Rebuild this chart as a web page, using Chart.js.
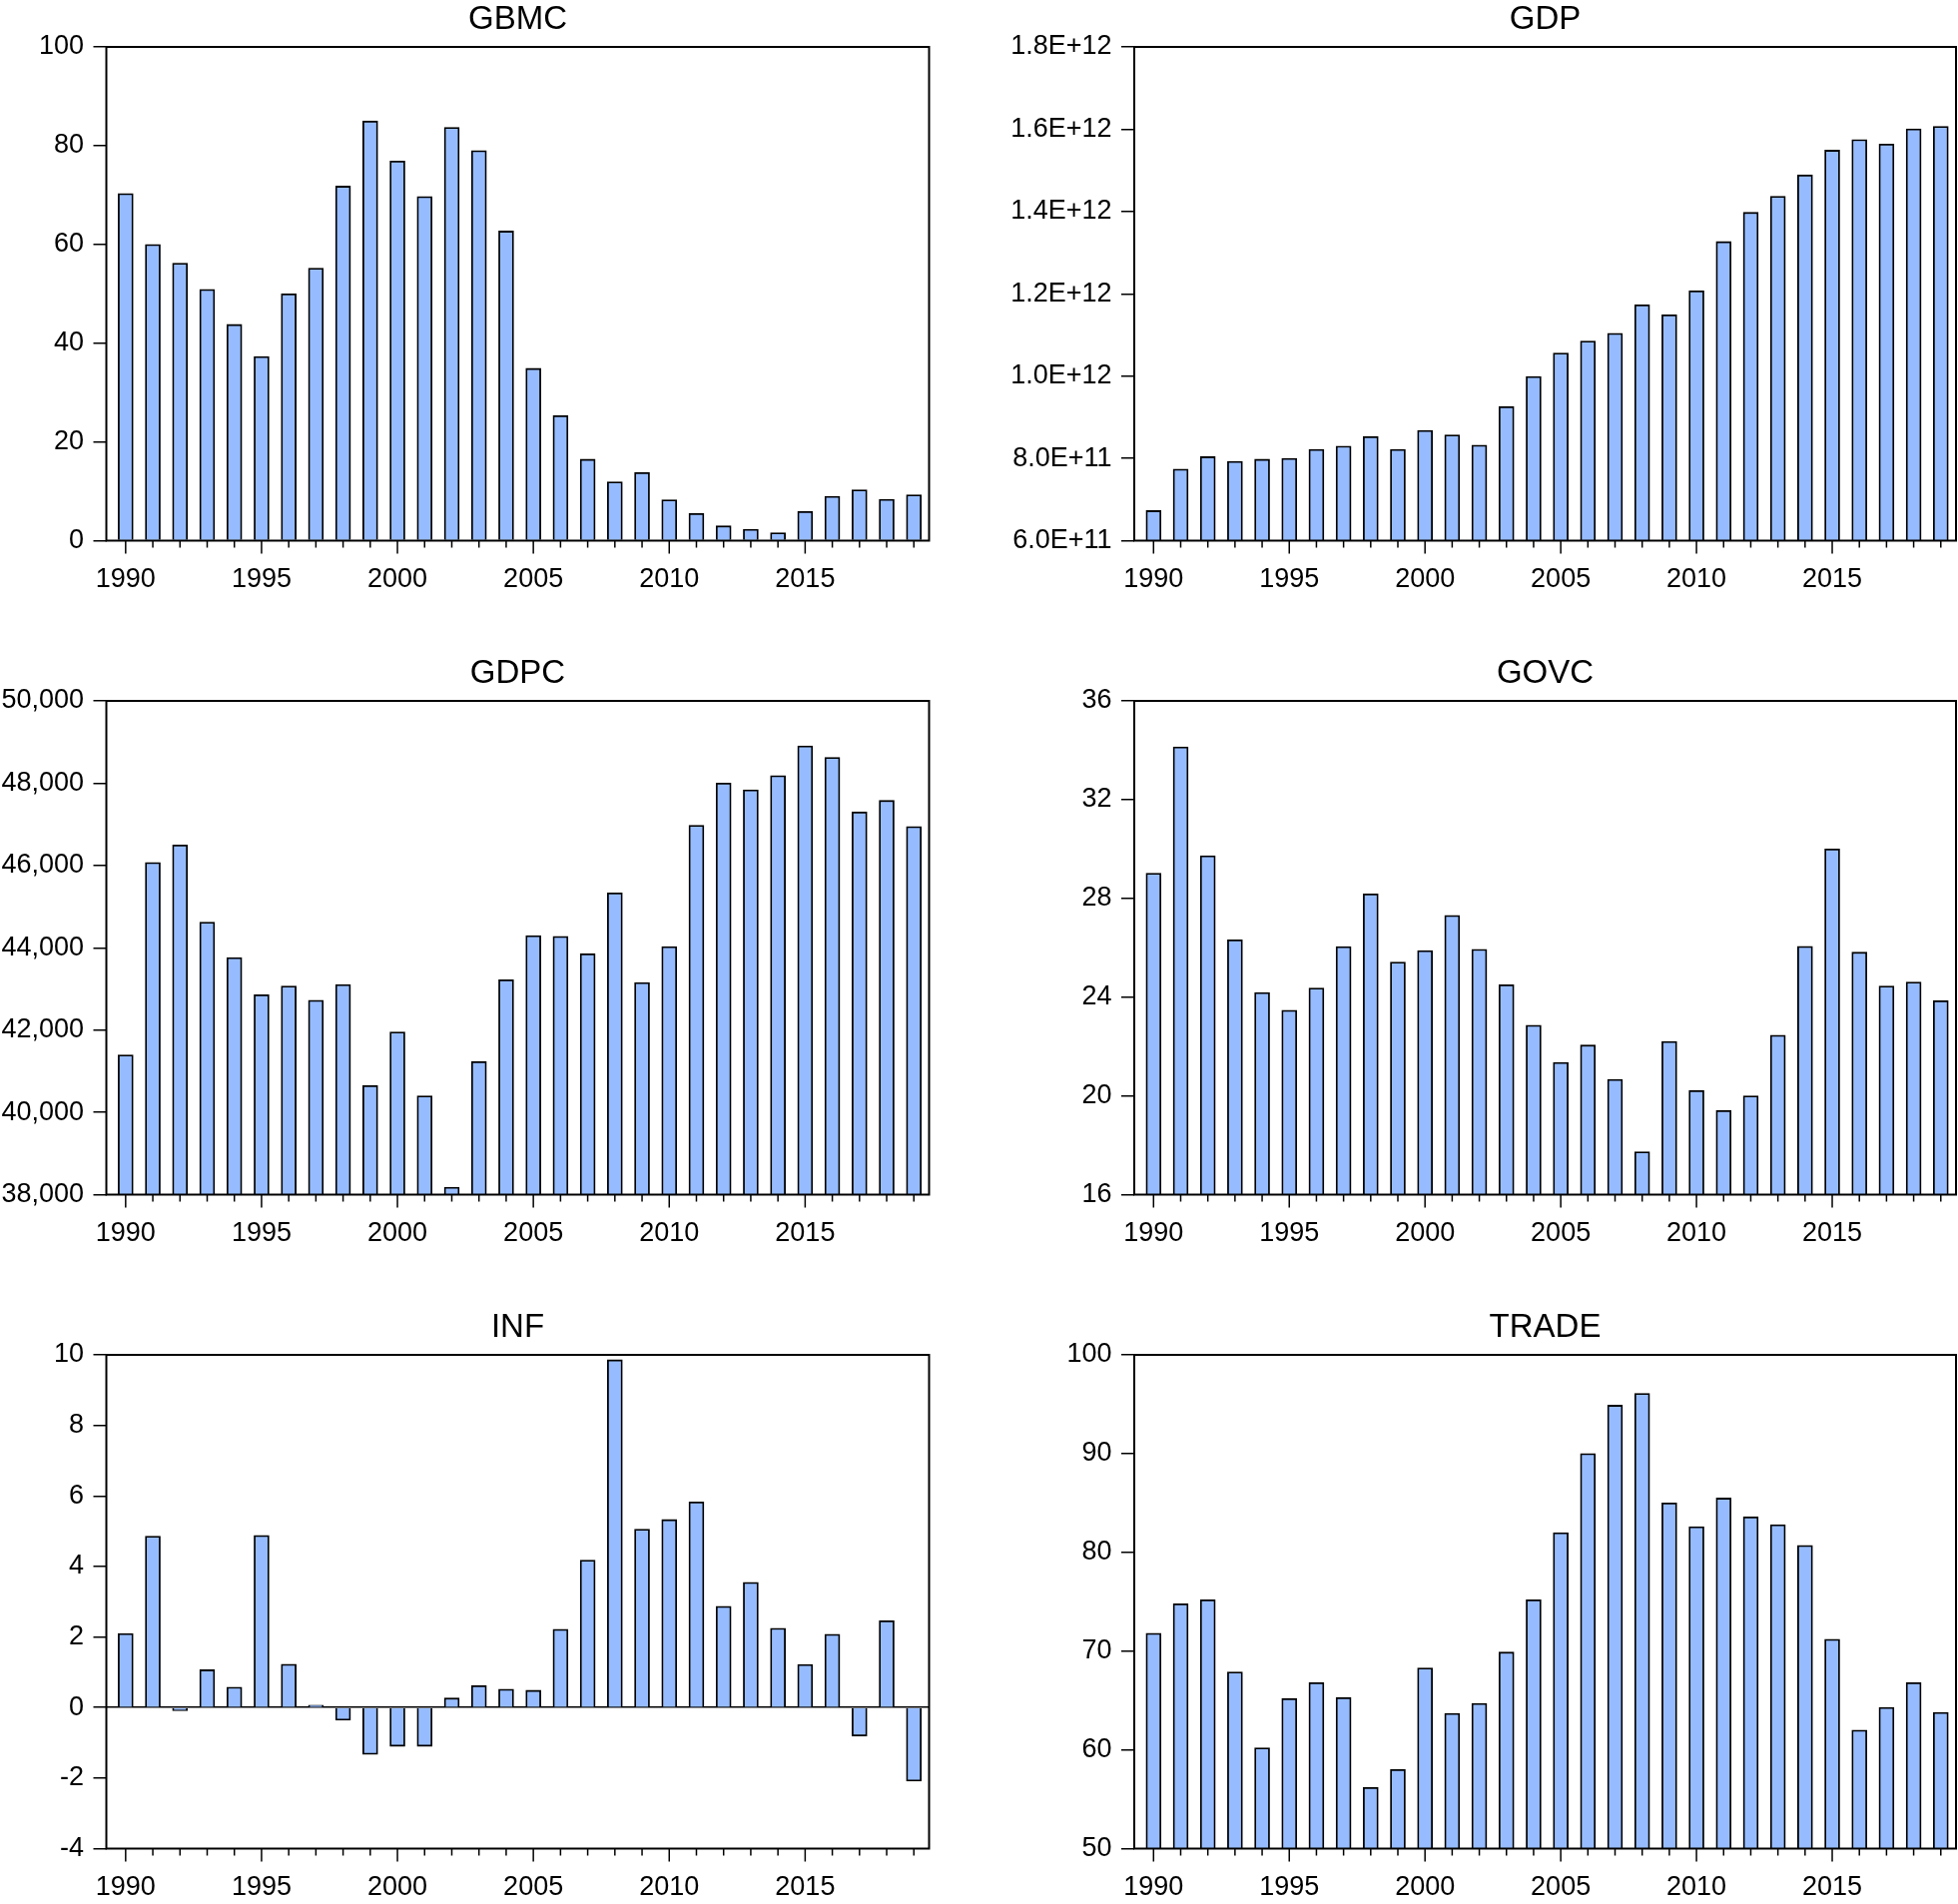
<!DOCTYPE html>
<html>
<head>
<meta charset="utf-8">
<script src="https://cdn.jsdelivr.net/npm/chart.js@4.4.1/dist/chart.umd.min.js"></script>
<style>
  html, body { margin: 0; padding: 0; background: #fff; width: 1961px; height: 1907px; overflow: hidden; }
  canvas { position: absolute; }
</style>
</head>
<body>
<canvas id="c-gbmc" width="980" height="610" style="left:0px;top:0px"></canvas>
<canvas id="c-gdp" width="981" height="610" style="left:980px;top:0px"></canvas>
<canvas id="c-gdpc" width="980" height="610" style="left:0px;top:655px"></canvas>
<canvas id="c-govc" width="981" height="610" style="left:980px;top:655px"></canvas>
<canvas id="c-inf" width="980" height="610" style="left:0px;top:1310px"></canvas>
<canvas id="c-trade" width="981" height="610" style="left:980px;top:1310px"></canvas>
<script>
var years = [1990, 1991, 1992, 1993, 1994, 1995, 1996, 1997, 1998, 1999,
             2000, 2001, 2002, 2003, 2004, 2005, 2006, 2007, 2008, 2009,
             2010, 2011, 2012, 2013, 2014, 2015, 2016, 2017, 2018, 2019];

var gbmc = [70.3, 60.0, 56.2, 50.9, 43.8, 37.3, 50.0, 55.2, 71.8, 85.0,
            76.9, 69.7, 83.7, 79.0, 62.7, 34.9, 25.3, 16.5, 11.9, 13.8,
            8.3, 5.5, 3.0, 2.3, 1.6, 5.9, 9.0, 10.3, 8.4, 9.3];

var gdp = [6.73e11, 7.74e11, 8.04e11, 7.93e11, 7.98e11, 8.00e11, 8.22e11, 8.30e11, 8.53e11, 8.22e11,
           8.68e11, 8.57e11, 8.32e11, 9.26e11, 9.99e11, 1.056e12, 1.085e12, 1.104e12, 1.173e12, 1.149e12,
           1.207e12, 1.327e12, 1.398e12, 1.437e12, 1.489e12, 1.549e12, 1.575e12, 1.564e12, 1.601e12, 1.607e12];

var gdpc = [41398, 46073, 46496, 44624, 43760, 42857, 43069, 42723, 43107, 40650,
            41955, 40400, 38182, 41235, 43222, 44297, 44278, 43856, 45334, 43155,
            44029, 46976, 48003, 47840, 48186, 48905, 48627, 47302, 47581, 46947];

var govc = [29.02, 34.14, 29.73, 26.32, 24.19, 23.47, 24.37, 26.05, 28.18, 25.42,
            25.89, 27.31, 25.94, 24.50, 22.86, 21.36, 22.06, 20.67, 17.74, 22.21,
            20.22, 19.41, 20.00, 22.46, 26.06, 30.00, 25.82, 24.45, 24.61, 23.86];

var inf = [2.10, 4.86, -0.09, 1.07, 0.58, 4.88, 1.23, 0.07, -0.36, -1.33,
           -1.10, -1.10, 0.27, 0.62, 0.52, 0.49, 2.22, 4.18, 9.86, 5.06,
           5.33, 5.83, 2.87, 3.55, 2.25, 1.22, 2.08, -0.81, 2.46, -2.09];

var trade = [71.8, 74.8, 75.2, 67.9, 60.2, 65.2, 66.8, 65.3, 56.2, 58.0,
             68.3, 63.7, 64.7, 69.9, 75.2, 82.0, 90.0, 94.9, 96.1, 85.0,
             82.6, 85.5, 83.6, 82.8, 80.7, 71.2, 62.0, 64.3, 66.8, 63.8];

// y axis ranges: [min, max, step]
var gbmcAxis = [0, 100, 20];
var gdpAxis = [6e11, 1.8e12, 2e11];
var gdpcAxis = [38000, 50000, 2000];
var govcAxis = [16, 36, 4];
var infAxis = [-4, 10, 2];
var tradeAxis = [50, 100, 10];

Chart.defaults.font.family = '"Liberation Sans", Arial, Helvetica, sans-serif';
Chart.defaults.color = '#000';

var plotTop = 47;
var plotHeight = 494.5;
var canvasHeight = 610;

function plainLabel(v) { return String(Math.round(v)); }
function commaLabel(v) { return Math.round(v).toLocaleString('en-US'); }
function expLabel(v) { return v.toExponential(1).replace('e+', 'E+'); }

// frame round the plot + year tick marks (long every 5 years)
var framePlugin = {
  id: 'frame',
  afterDraw: function(chart) {
    var ctx = chart.ctx;
    var a = chart.chartArea;
    var xs = chart.scales.x;
    ctx.save();
    ctx.strokeStyle = '#000';
    ctx.lineWidth = 1.5;
    xs.ticks.forEach(function(t) {
      var px = xs.getPixelForValue(t.value);
      var len = (Math.round(t.value) % 5 === 0) ? 13 : 7;
      ctx.beginPath();
      ctx.moveTo(px, a.bottom);
      ctx.lineTo(px, a.bottom + len);
      ctx.stroke();
    });
    ctx.lineWidth = 2;
    ctx.strokeRect(a.left, a.top, a.right - a.left, a.bottom - a.top);
    ctx.restore();
  }
};

function makePanel(id, title, values, axis, fmt, col, zeroLine) {
  var leftW = col === 0 ? 106.5 : 156;
  var rightPad = col === 0 ? 49.5 : 2;
  var points = [];
  for (var i = 0; i < years.length; i++) {
    points.push({ x: years[i], y: values[i] });
  }
  return new Chart(document.getElementById(id), {
    type: 'bar',
    data: {
      datasets: [{
        data: points,
        backgroundColor: '#96BCFF',
        borderColor: '#000',
        borderWidth: 1.8,
        barThickness: 15
      }]
    },
    options: {
      responsive: false,
      animation: false,
      devicePixelRatio: 1,
      layout: { padding: { left: 0, right: rightPad, top: 0, bottom: 0 } },
      plugins: {
        legend: { display: false },
        tooltip: { enabled: false },
        title: {
          display: true,
          text: title,
          fullSize: false,
          color: '#000',
          font: { size: 33, weight: 'normal' },
          padding: { top: 0, bottom: plotTop - 39.6 }
        }
      },
      scales: {
        x: {
          type: 'linear',
          offset: false,
          min: 1989.29,
          max: 2019.56,
          grid: { display: false },
          border: { display: false },
          ticks: {
            stepSize: 1,
            includeBounds: false,
            autoSkip: false,
            maxRotation: 0,
            minRotation: 0,
            padding: 15,
            font: { size: 27 },
            color: '#000',
            callback: function(v) { return (Math.round(v) % 5 === 0) ? String(Math.round(v)) : ''; }
          },
          afterFit: function(scale) { scale.height = canvasHeight - plotTop - plotHeight; }
        },
        y: {
          min: axis[0],
          max: axis[1],
          grid: {
            drawOnChartArea: !!zeroLine,
            color: function(c) { return (zeroLine && c.tick && Math.abs(c.tick.value) < 1e-9) ? '#000' : 'rgba(0,0,0,0)'; },
            lineWidth: 1.5,
            tickLength: 13,
            tickColor: '#000',
            tickWidth: 1.5
          },
          border: { display: false },
          ticks: {
            stepSize: axis[2],
            padding: 9.5,
            font: { size: 27 },
            color: '#000',
            callback: fmt
          },
          afterFit: function(scale) { scale.width = leftW; }
        }
      }
    },
    plugins: [framePlugin]
  });
}

makePanel('c-gbmc', 'GBMC', gbmc, gbmcAxis, plainLabel, 0, false);
makePanel('c-gdp', 'GDP', gdp, gdpAxis, expLabel, 1, false);
makePanel('c-gdpc', 'GDPC', gdpc, gdpcAxis, commaLabel, 0, false);
makePanel('c-govc', 'GOVC', govc, govcAxis, plainLabel, 1, false);
makePanel('c-inf', 'INF', inf, infAxis, plainLabel, 0, true);
makePanel('c-trade', 'TRADE', trade, tradeAxis, plainLabel, 1, false);
</script>
</body>
</html>
